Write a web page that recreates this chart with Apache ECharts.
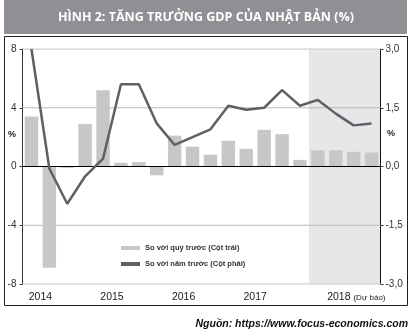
<!DOCTYPE html>
<html><head><meta charset="utf-8">
<script src="https://cdn.jsdelivr.net/npm/echarts@6/dist/echarts.min.js"></script>
<style>html,body{margin:0;padding:0;background:#fff}#c{width:415px;height:336px}</style>
</head><body><div id="c"></div>
<script>
var categories = ['2014Q1','2014Q2','2014Q3','2014Q4','2015Q1','2015Q2','2015Q3','2015Q4','2016Q1','2016Q2','2016Q3','2016Q4','2017Q1','2017Q2','2017Q3','2017Q4','2018Q1','2018Q2','2018Q3','2018Q4'];
var qoq = [3.4, -6.9, -0.1, 2.9, 5.2, 0.25, 0.3, -0.6, 2.1, 1.35, 0.8, 1.75, 1.2, 2.5, 2.2, 0.45, 1.1, 1.1, 1.0, 0.95];
var yoy = [3.0, -0.05, -0.95, -0.25, 0.2, 2.1, 2.1, 1.1, 0.55, 0.75, 0.95, 1.55, 1.45, 1.5, 1.95, 1.55, 1.7, 1.35, 1.05, 1.1];
var yearLabels = ['2014', '2015', '2016', '2017', '2018'];
var yearLabelPos = [1, 5, 9, 13, 18.65];
var forecastRange = [16, 20];
var gridLight = [8, -8];
var gridMid = [4, -4];
var seriesNames = ['So với quý trước (Cột trái)', 'So với năm trước (Cột phải)'];

function hline(values) {
  var d = [];
  values.forEach(function (v, i) {
    if (i > 0) d.push('-');
    d.push([0, v], [20, v]);
  });
  return d;
}

var chart = echarts.init(document.getElementById('c'), null, {renderer: 'canvas'});
var FONT = 'Liberation Sans, Arial, sans-serif';
var gridSeries = function (values, color, width, z) {
  return {type: 'line', xAxisIndex: 1, yAxisIndex: 0, z: z, zlevel: 0, silent: true, symbol: 'none',
    connectNulls: false, data: hline(values), lineStyle: {color: color, width: width}};
};
chart.setOption({
  animation: false,
  grid: {left: 22.5, right: 34.5, top: 49, bottom: 52},
  legend: {
    orient: 'vertical', left: 116, top: 239, itemGap: 8, itemWidth: 19, itemHeight: 4,
    data: [{name: seriesNames[0], icon: 'rect'}, {name: seriesNames[1], icon: 'rect', itemStyle: {color: '#5f6063'}}],
    textStyle: {fontSize: 7.5, color: '#333', fontFamily: FONT, fontWeight: 'bold'}
  },
  xAxis: [{
    type: 'category', data: categories, boundaryGap: true,
    axisLine: {show: false}, axisTick: {show: false}, axisLabel: {show: false}, splitLine: {show: false}
  }, {
    type: 'value', min: 0, max: 20, position: 'bottom',
    axisLine: {show: false}, axisTick: {show: false}, splitLine: {show: false},
    axisLabel: {
      show: true, customValues: yearLabelPos, margin: 8, color: '#222', fontSize: 10.5, fontFamily: FONT,
      formatter: function (v) {
        for (var i = 0; i < yearLabelPos.length; i++) {
          if (Math.abs(yearLabelPos[i] - v) < 0.01) {
            return i === yearLabels.length - 1 ? '{a|' + yearLabels[i] + '} {b|(Dự báo)}' : yearLabels[i];
          }
        }
        return '';
      },
      rich: {a: {fontSize: 10.5, color: '#222', fontFamily: FONT}, b: {fontSize: 8, color: '#222', fontFamily: FONT}}
    }
  }],
  yAxis: [{
    type: 'value', min: -8, max: 8, interval: 4, position: 'left',
    axisLine: {show: true, lineStyle: {color: '#333'}},
    axisTick: {show: true, length: 3, lineStyle: {color: '#333'}},
    axisLabel: {color: '#333', fontSize: 10, margin: 6, fontFamily: FONT},
    splitLine: {show: false}
  }, {
    type: 'value', min: -3, max: 3, interval: 1.5, position: 'right',
    axisLine: {show: true, lineStyle: {color: '#111'}},
    axisTick: {show: true, length: 3, lineStyle: {color: '#333'}},
    axisLabel: {color: '#333', fontSize: 10, margin: 5, fontFamily: FONT,
      formatter: function (v) { return v.toFixed(1).replace('.', ','); }},
    splitLine: {show: false}
  }],
  series: [{
    type: 'line', xAxisIndex: 1, yAxisIndex: 0, z: 0, zlevel: -1, silent: true, symbol: 'none',
    data: [[forecastRange[0], 8], [forecastRange[1], 8]],
    lineStyle: {width: 0, opacity: 0},
    areaStyle: {origin: 'start', color: 'rgba(205,207,211,0.5)', opacity: 1}
  },
  gridSeries(gridLight, '#d3d3d3', 1.5, 1),
  gridSeries(gridMid, '#b9b9b9', 1, 1),
  {
    name: seriesNames[0], type: 'bar', xAxisIndex: 0, yAxisIndex: 0, data: qoq, barWidth: '75%',
    itemStyle: {color: '#c6c7c9'}, z: 2
  },
  gridSeries([0], '#000', 1, 2.5),
  {
    name: seriesNames[1], type: 'line', xAxisIndex: 0, yAxisIndex: 1, data: yoy, symbol: 'none',
    lineStyle: {color: '#5f6063', width: 2.5}, itemStyle: {color: '#5f6063'}, z: 3
  }],
  graphic: [
    {type: 'rect', shape: {x: 4, y: 0, width: 403, height: 34}, style: {fill: '#8f9093'}, z: 10},
    {type: 'text', x: 206, y: 17, style: {text: 'HÌNH 2: TĂNG TRƯỞNG GDP CỦA NHẬT BẢN (%)', fill: '#fff', font: 'bold 12.5px "Open Sans", sans-serif', align: 'center', verticalAlign: 'middle'}, z: 11},
    {type: 'rect', shape: {x: 4.5, y: 36.5, width: 403, height: 269}, style: {fill: null, stroke: '#222', lineWidth: 1}, z: 10},
    {type: 'text', x: 12, y: 135, style: {text: '%', fill: '#222', font: 'bold 9px ' + FONT, align: 'center', verticalAlign: 'middle'}, z: 11},
    {type: 'text', x: 391, y: 134, style: {text: '%', fill: '#222', font: 'bold 9px ' + FONT, align: 'center', verticalAlign: 'middle'}, z: 11},
    {type: 'text', x: 408, y: 324, style: {text: 'Nguồn: https://www.focus-economics.com', fill: '#111', font: 'italic bold 10.5px "Liberation Sans Narrow", "Liberation Sans", sans-serif', align: 'right', verticalAlign: 'middle'}, z: 11}
  ]
});
</script></body></html>
